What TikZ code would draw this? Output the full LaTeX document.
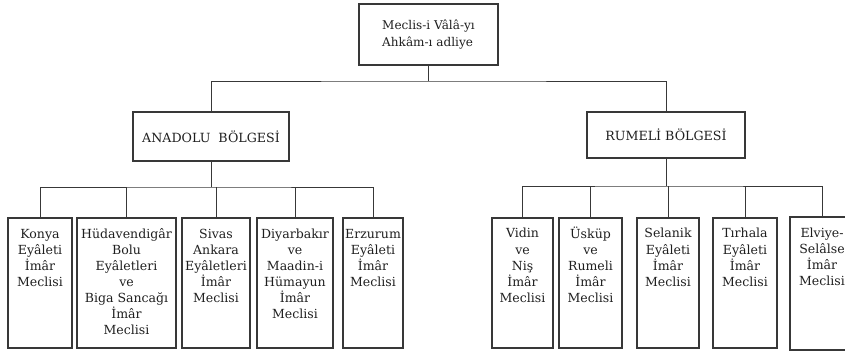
\documentclass[tikz,border=0pt]{standalone}
\usepackage{fontspec}
\setmainfont{DejaVu Serif}
\usetikzlibrary{positioning}
\usetikzlibrary{calc}
\definecolor{ink}{gray}{0.22}
\definecolor{letters}{gray}{0.12}

\begin{document}
\begin{tikzpicture}[x=0.03cm,y=-0.03cm]
\tikzstyle{box}=[draw=ink,line width=1.7pt,inner sep=0pt,text=letters]
\tikzstyle{leaf}=[box,minimum height=3.9cm]
\tikzstyle{leaftext}=[inner sep=0pt,align=center,text=letters,font=\fontsize{10.7}{13.7}\selectfont]
\tikzstyle{link}=[draw=ink,line width=0.75pt]
\useasboundingbox (0,0) rectangle (845,354);
\node (top) [box, align=left, minimum width=4.17cm, minimum height=1.83cm, font=\fontsize{10.3}{14}\selectfont] at (428.5,34.5) {Meclis-i Vâlâ-yı\\Ahkâm-ı adliye};
\node (anadolu) [box, minimum width=4.68cm, minimum height=1.47cm, font=\fontsize{10.8}{13}\selectfont] at (211,136.5) {ANADOLU\ \ BÖLGESİ};
\node (rumeli) [box, minimum width=4.74cm, minimum height=1.38cm, font=\fontsize{10.8}{13}\selectfont] at (666,135) {RUMELİ BÖLGESİ};
% anadolu
\node (konya) [leaf, minimum width=1.92cm] at (40,283) {};
\node (hudav) [leaf, minimum width=2.97cm] at (126.5,283) {};
\node (sivas) [leaf, minimum width=2.04cm] at (216,283) {};
\node (diyar) [leaf, minimum width=2.28cm] at (295,283) {};
\node (erzurum) [leaf, minimum width=1.8cm] at (373,283) {};
\node (konyatext) [leaftext, below=0.3cm of konya.north] {\strut Konya\\Eyâleti\\İmâr\\Meclisi};
\node (hudavtext) [leaftext, below=0.3cm of hudav.north] {\strut Hüdavendigâr\\Bolu\\Eyâletleri\\ve\\Biga Sancağı\\İmâr\\Meclisi};
\node (sivastext) [leaftext, below=0.3cm of sivas.north] {\strut Sivas\\Ankara\\Eyâletleri\\İmâr\\Meclisi};
\node (diyartext) [leaftext, below=0.3cm of diyar.north] {\strut Diyarbakır\\ve\\Maadin-i\\Hümayun\\İmâr\\Meclisi};
\node (erzurumtext) [leaftext, below=0.3cm of erzurum.north] {\strut Erzurum\\Eyâleti\\İmâr\\Meclisi};
% rumeli
\node (vidin) [leaf, minimum width=1.83cm] at (522.5,282.5) {};
\node (uskup) [leaf, minimum width=1.89cm] at (590.5,282.5) {};
\node (selanik) [leaf, minimum width=1.86cm] at (668,282.5) {};
\node (tirhala) [leaf, minimum width=1.92cm] at (745,282.5) {};
\node (elviye) [leaf, minimum width=1.92cm, minimum height=3.99cm] at (822,283.5) {};
\node (vidintext) [leaftext, below=0.3cm of vidin.north] {\strut Vidin\\ve\\Niş\\İmâr\\Meclisi};
\node (uskuptext) [leaftext, below=0.3cm of uskup.north] {\strut Üsküp\\ve\\Rumeli\\İmâr\\Meclisi};
\node (selaniktext) [leaftext, below=0.3cm of selanik.north] {\strut Selanik\\Eyâleti\\İmâr\\Meclisi};
\node (tirhalatext) [leaftext, below=0.3cm of tirhala.north] {\strut Tırhala\\Eyâleti\\İmâr\\Meclisi};
\node (elviyetext) [leaftext, below=0.3cm of elviye.north] {\strut Elviye-\\Selâlse\\İmâr\\Meclisi};
% links
\draw [link] (top.south) -- ++(0,15) coordinate (split);
\draw [link] (anadolu.north) |- (split) -| (rumeli.north);
\draw [link] (anadolu.south) -- ++(0,25) coordinate (abus);
\draw [link] (konya.north) |- (abus) -| (erzurum.north);
\foreach \n in {hudav,sivas,diyar}
  \draw [link] (\n.north) -- (\n.north |- abus);
\draw [link] (rumeli.south) -- ++(0,27) coordinate (rbus);
\draw [link] (vidin.north) |- (rbus) -| (elviye.north);
\foreach \n in {uskup,selanik,tirhala}
  \draw [link] (\n.north) -- (\n.north |- rbus);
\end{tikzpicture}
\end{document}
